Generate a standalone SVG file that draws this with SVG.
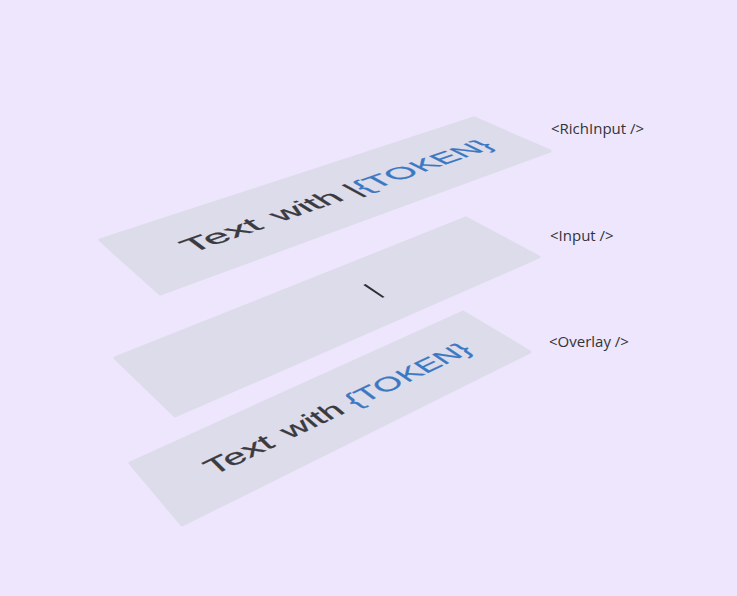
<svg xmlns="http://www.w3.org/2000/svg" width="737" height="596" viewBox="0 0 737 596">
<style>
.card{fill:#dddcea;stroke:#dddcea;stroke-width:3;stroke-linejoin:round}
.t{font-family:"Liberation Sans",Arial,sans-serif;font-size:32px;fill:#3a3a40;stroke:#3a3a40;stroke-width:0.35}
.t2{font-size:32.5px}
.tok{fill:#3b78c3;stroke:#3b78c3}
.lbl{font-family:"Open Sans","Liberation Sans",sans-serif;font-size:15px;fill:#333338}
</style>
<rect width="737" height="596" fill="#ede6fc"/>
<g id="rich-input">
<polygon class="card" points="100,240 474,118 550,151 160,294"/>
<text class="t t2" transform="matrix(1.23474,-0.42694,0.6556,0.4816,100.92,239.95)" x="40" y="63">Text</text>
<text class="t t2" transform="matrix(1.1236,-0.38849,0.6937,0.4358,111.02,238.13)" x="112.25" y="63">with</text>
<text class="t t2" transform="matrix(1.026,-0.35477,0.723,0.3957,126.82,234.22)" x="179.08" y="63">|<tspan class="tok">{TO</tspan></text>
<text class="t t2 tok" transform="matrix(0.9396,-0.32489,0.7451,0.3602,147.01,228.67)" x="243.53" y="63">KEN}</text>
</g>
<g id="input">
<polygon class="card" points="115,358 466,218 539,257 175,416"/>
<line transform="matrix(0.9931,-0.4153,0.6833,0.4582,110.42,364.02)" x1="231" y1="36" x2="231" y2="64" stroke="#2e2e34" stroke-width="2.2"/>
</g>
<g id="overlay">
<polygon class="card" points="130,463 463,312 530,352 182,525"/>
<text class="t" transform="matrix(1.07694,-0.51126,0.56686,0.5615,130.08,462.99)" x="44" y="63">Text</text>
<text class="t" transform="matrix(0.99803,-0.4738,0.6012,0.5142,136.89,461.36)" x="115.14" y="63">with</text>
<text class="t tok" transform="matrix(0.93097,-0.44197,0.6279,0.4742,147.28,457.83)" x="180.94" y="63">{TO</text>
<text class="t tok" transform="matrix(0.86966,-0.41286,0.6501,0.4378,160.91,452.7)" x="236.08" y="63">KEN}</text>
</g>
<g id="labels">
<text class="lbl" x="551" y="134">&lt;RichInput /&gt;</text>
<text class="lbl" x="550" y="241">&lt;Input /&gt;</text>
<text class="lbl" x="549" y="347">&lt;Overlay /&gt;</text>
</g>
</svg>
